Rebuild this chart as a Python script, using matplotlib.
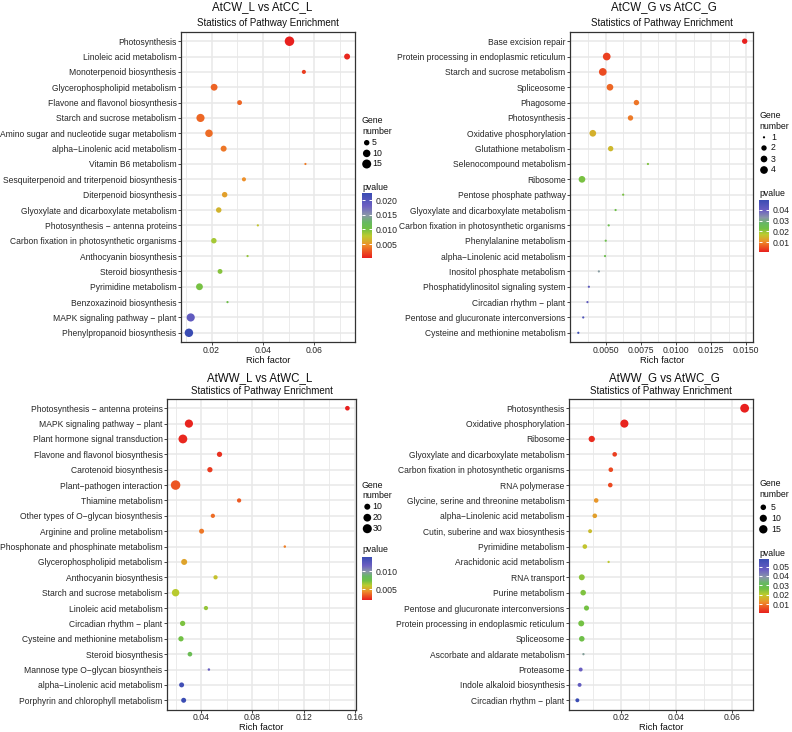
import numpy as np
import matplotlib
matplotlib.use("Agg")
import matplotlib.pyplot as plt
from matplotlib.colors import LinearSegmentedColormap, Normalize
from matplotlib.cm import ScalarMappable
from matplotlib.ticker import FixedLocator, FormatStrFormatter

plt.rcParams['font.family'] = ['Liberation Sans', 'DejaVu Sans']

M = "\u2212"

# ---------------- Panel 1 ----------------
p1_title = "AtCW_L vs AtCC_L"
p1_pathways = ["Photosynthesis", "Linoleic acid metabolism", "Monoterpenoid biosynthesis",
               "Glycerophospholipid metabolism", "Flavone and flavonol biosynthesis",
               "Starch and sucrose metabolism", "Amino sugar and nucleotide sugar metabolism",
               f"alpha{M}Linolenic acid metabolism", "Vitamin B6 metabolism",
               "Sesquiterpenoid and triterpenoid biosynthesis", "Diterpenoid biosynthesis",
               "Glyoxylate and dicarboxylate metabolism", f"Photosynthesis {M} antenna proteins",
               "Carbon fixation in photosynthetic organisms", "Anthocyanin biosynthesis",
               "Steroid biosynthesis", "Pyrimidine metabolism", "Benzoxazinoid biosynthesis",
               f"MAPK signaling pathway {M} plant", "Phenylpropanoid biosynthesis"]
p1_rich = [0.0503, 0.0727, 0.0559, 0.0210, 0.0309, 0.0157, 0.0190, 0.0247, 0.0565, 0.0326,
           0.0251, 0.0228, 0.0380, 0.0209, 0.0340, 0.0233, 0.0153, 0.0262, 0.0119, 0.0112]
p1_genes = [17, 6, 3, 8, 4, 12, 10, 6, 2, 3, 5, 5, 2, 5, 2, 4, 8, 2, 12, 13]
p1_pvalue = [0.0002, 0.0006, 0.0015, 0.0030, 0.0031, 0.0032, 0.0034, 0.0038, 0.0040, 0.0048,
             0.0055, 0.0064, 0.0074, 0.0085, 0.0090, 0.0095, 0.0100, 0.0105, 0.0190, 0.0225]
p1_xticks = [0.02, 0.04, 0.06]
p1_size_breaks = [5, 10, 15]
p1_p_breaks = [0.005, 0.010, 0.015, 0.020]

# ---------------- Panel 2 ----------------
p2_title = "AtCW_G vs AtCC_G"
p2_pathways = ["Base excision repair", "Protein processing in endoplasmic reticulum",
               "Starch and sucrose metabolism", "Spliceosome", "Phagosome", "Photosynthesis",
               "Oxidative phosphorylation", "Glutathione metabolism", "Selenocompound metabolism",
               "Ribosome", "Pentose phosphate pathway", "Glyoxylate and dicarboxylate metabolism",
               "Carbon fixation in photosynthetic organisms", "Phenylalanine metabolism",
               f"alpha{M}Linolenic acid metabolism", "Inositol phosphate metabolism",
               "Phosphatidylinositol signaling system", f"Circadian rhythm {M} plant",
               "Pentose and glucuronate interconversions", "Cysteine and methionine metabolism"]
p2_rich = [0.01488, 0.00507, 0.00479, 0.00530, 0.00718, 0.00676, 0.00408, 0.00535, 0.00800,
           0.00331, 0.00624, 0.00570, 0.00521, 0.00500, 0.00495, 0.00451, 0.00380, 0.00370,
           0.00340, 0.00305]
p2_genes = [2, 4, 4, 3, 2, 2, 3, 2, 1, 3, 1, 1, 1, 1, 1, 1, 1, 1, 1, 1]
p2_pvalue = [0.001, 0.004, 0.005, 0.0075, 0.0085, 0.009, 0.014, 0.015, 0.0216, 0.022,
             0.022, 0.023, 0.024, 0.024, 0.024, 0.032, 0.042, 0.042, 0.045, 0.049]
p2_xticks = [0.005, 0.0075, 0.010, 0.0125, 0.015]
p2_size_breaks = [1, 2, 3, 4]
p2_p_breaks = [0.01, 0.02, 0.03, 0.04]

# ---------------- Panel 3 ----------------
p3_title = "AtWW_L vs AtWC_L"
p3_pathways = [f"Photosynthesis {M} antenna proteins", f"MAPK signaling pathway {M} plant",
               "Plant hormone signal transduction", "Flavone and flavonol biosynthesis",
               "Carotenoid biosynthesis", f"Plant{M}pathogen interaction", "Thiamine metabolism",
               f"Other types of O{M}glycan biosynthesis", "Arginine and proline metabolism",
               "Phosphonate and phosphinate metabolism", "Glycerophospholipid metabolism",
               "Anthocyanin biosynthesis", "Starch and sucrose metabolism",
               "Linoleic acid metabolism", f"Circadian rhythm {M} plant",
               "Cysteine and methionine metabolism", "Steroid biosynthesis",
               f"Mannose type O{M}glycan biosyntheis", f"alpha{M}Linolenic acid metabolism",
               "Porphyrin and chlorophyll metabolism"]
p3_rich = [0.1542, 0.0304, 0.0257, 0.0543, 0.0468, 0.0200, 0.0696, 0.0491, 0.0403, 0.1053,
           0.0267, 0.0512, 0.0200, 0.0437, 0.0255, 0.0242, 0.0312, 0.0460, 0.0247, 0.0263]
p3_genes = [5, 23, 28, 7, 7, 34, 4, 4, 6, 2, 10, 4, 18, 4, 7, 7, 5, 2, 6, 6]
p3_pvalue = [0.0021, 0.0022, 0.0023, 0.0025, 0.0027, 0.0033, 0.0034, 0.0038, 0.0040, 0.0042,
             0.0050, 0.0058, 0.0062, 0.0068, 0.0072, 0.0074, 0.0080, 0.0118, 0.0135, 0.0139]
p3_xticks = [0.04, 0.08, 0.12, 0.16]
p3_size_breaks = [10, 20, 30]
p3_p_breaks = [0.005, 0.010]

# ---------------- Panel 4 ----------------
p4_title = "AtWW_G vs AtWC_G"
p4_pathways = ["Photosynthesis", "Oxidative phosphorylation", "Ribosome",
               "Glyoxylate and dicarboxylate metabolism", "Carbon fixation in photosynthetic organisms",
               "RNA polymerase", "Glycine, serine and threonine metabolism",
               f"alpha{M}Linolenic acid metabolism", "Cutin, suberine and wax biosynthesis",
               "Pyrimidine metabolism", "Arachidonic acid metabolism", "RNA transport",
               "Purine metabolism", "Pentose and glucuronate interconversions",
               "Protein processing in endoplasmic reticulum", "Spliceosome",
               "Ascorbate and aldarate metabolism", "Proteasome", "Indole alkaloid biosynthesis",
               f"Circadian rhythm {M} plant"]
p4_rich = [0.0647, 0.0212, 0.0094, 0.0177, 0.0163, 0.0161, 0.0110, 0.0105, 0.0088, 0.0069,
           0.0155, 0.0058, 0.0063, 0.0075, 0.0056, 0.0058, 0.0064, 0.0054, 0.0050, 0.0042]
p4_genes = [17, 14, 7, 3, 3, 3, 3, 3, 2, 3, 1, 6, 5, 4, 6, 5, 1, 2, 2, 2]
p4_pvalue = [0.0005, 0.001, 0.002, 0.004, 0.005, 0.005, 0.013, 0.014, 0.018, 0.019,
             0.020, 0.024, 0.025, 0.026, 0.026, 0.027, 0.037, 0.047, 0.049, 0.058]
p4_xticks = [0.02, 0.04, 0.06]
p4_size_breaks = [5, 10, 15]
p4_p_breaks = [0.01, 0.02, 0.03, 0.04, 0.05]

subtitle = "Statistics of Pathway Enrichment"
xlabel = "Rich factor"

# ---------------- styling ----------------
cmap = LinearSegmentedColormap.from_list("pv", [
    (0.00, '#E8201E'), (0.10, '#EC5422'), (0.20, '#EE8E2A'), (0.27, '#D4B02C'),
    (0.34, '#BCCB2E'), (0.45, '#6FC045'), (0.55, '#66B862'), (0.66, '#8A97A8'),
    (0.80, '#6C5FC2'), (1.00, '#3A4CB3')])

W, H = 792, 732
fig = plt.figure(figsize=(W / 100, H / 100), dpi=100)
fig.patch.set_facecolor('white')

ov = fig.add_axes([0, 0, 1, 1], zorder=10)
ov.set_xlim(0, W)
ov.set_ylim(H, 0)
ov.axis('off')
ov.patch.set_alpha(0)


def px_axes(l, t, r, b, **kw):
    return fig.add_axes([l / W, 1 - b / H, (r - l) / W, (b - t) / H], **kw)


def diam(n, nmin, nmax, dmin, dmax):
    n = np.asarray(n, dtype=float)
    return dmin + (dmax - dmin) * np.sqrt((n - nmin) / (nmax - nmin))


def s_of(d):
    return (np.asarray(d) * 0.72) ** 2


TXT = '#262626'

panels = [
    dict(title=p1_title, paths=p1_pathways, rich=p1_rich, genes=p1_genes, pv=p1_pvalue,
         xt=p1_xticks, sb=p1_size_breaks, pb=p1_p_breaks, xfmt='%.2f', pfmt='%.3f',
         box=(181, 32, 355, 342), tx=(262, 7), sx=(268, 23), xl=(268, 360.5),
         dm=(2.2, 9.5), leg=dict(x=362, gene=120.5, num=131, ent=[142.7, 153.4, 164],
                                  cx=366.7, lx=372, pv=188, cb=(362, 193, 372, 258))),
    dict(title=p2_title, paths=p2_pathways, rich=p2_rich, genes=p2_genes, pv=p2_pvalue,
         xt=p2_xticks, sb=p2_size_breaks, pb=p2_p_breaks, xfmt='%.4f', pfmt='%.2f',
         box=(570, 32, 753, 342), tx=(664, 7), sx=(662, 23), xl=(662, 360.5),
         dm=(2.2, 7.7), leg=dict(x=759, gene=115.7, num=126.3, ent=[137.3, 148, 159, 170],
                                  cx=764, lx=771, pv=193.3, cb=(759, 200, 769, 252))),
    dict(title=p3_title, paths=p3_pathways, rich=p3_rich, genes=p3_genes, pv=p3_pvalue,
         xt=p3_xticks, sb=p3_size_breaks, pb=p3_p_breaks, xfmt='%.2f', pfmt='%.3f',
         box=(167, 399, 356, 709.5), tx=(260, 378), sx=(261.5, 391), xl=(261.5, 727),
         dm=(2.5, 9.5), leg=dict(x=362, gene=485.7, num=496, ent=[506.7, 517.7, 528.7],
                                  cx=367.3, lx=372.5, pv=550, cb=(362, 557, 372, 600))),
    dict(title=p4_title, paths=p4_pathways, rich=p4_rich, genes=p4_genes, pv=p4_pvalue,
         xt=p4_xticks, sb=p4_size_breaks, pb=p4_p_breaks, xfmt='%.2f', pfmt='%.2f',
         box=(569, 399, 753, 709.5), tx=(664.7, 378), sx=(661, 391), xl=(661, 727),
         dm=(2.3, 8.8), leg=dict(x=759, gene=484, num=494.5, ent=[507.3, 518.3, 529.3],
                                  cx=763.3, lx=771, pv=553, cb=(759, 559, 769, 613))),
]

for P in panels:
    l, t, r, b = P['box']
    ax = px_axes(l, t, r, b)
    n = len(P['paths'])
    ypos = np.arange(n)
    rich = np.array(P['rich'])
    genes = np.array(P['genes'])
    pv = np.array(P['pv'])
    gmin, gmax = genes.min(), genes.max()
    norm = Normalize(vmin=pv.min(), vmax=pv.max())
    d = diam(genes, gmin, gmax, *P['dm'])
    ax.scatter(rich, ypos, s=s_of(d), c=pv, cmap=cmap, norm=norm,
               edgecolors='none', zorder=3, clip_on=False)
    span = rich.max() - rich.min()
    ax.set_xlim(rich.min() - 0.05 * span, rich.max() + 0.05 * span)
    ax.set_ylim(n - 0.4, -0.6)
    ax.set_yticks(ypos)
    ax.set_yticklabels(P['paths'])
    xt = P['xt']
    ax.xaxis.set_major_locator(FixedLocator(xt))
    step = xt[1] - xt[0]
    minors = [xt[0] - step / 2] + [v + step / 2 for v in xt]
    ax.xaxis.set_minor_locator(FixedLocator(minors))
    ax.xaxis.set_major_formatter(FormatStrFormatter(P['xfmt']))
    ax.grid(which='major', color='#E8E8E8', lw=1.1, zorder=0)
    ax.grid(which='minor', axis='x', color='#E8E8E8', lw=0.6, zorder=0)
    ax.set_axisbelow(True)
    ax.tick_params(axis='both', which='major', length=2.2, width=0.6, color=TXT,
                   labelcolor=TXT, pad=1.0)
    ax.tick_params(axis='x', pad=0.6)
    ax.tick_params(axis='y', labelsize=6.15)
    ax.tick_params(axis='x', labelsize=6.2)
    ax.tick_params(which='minor', length=0)
    for sp in ax.spines.values():
        sp.set_color('#333333')
        sp.set_linewidth(0.9)

    ov.text(P['tx'][0], P['tx'][1], P['title'], ha='center', va='center', fontsize=8.3, color='#111111')
    ov.text(P['sx'][0], P['sx'][1], subtitle, ha='center', va='center', fontsize=7.0, color='#111111')
    ov.text(P['xl'][0], P['xl'][1], xlabel, ha='center', va='center', fontsize=6.7, color='#111111')

    L = P['leg']
    ov.text(L['x'], L['gene'], "Gene", ha='left', va='center', fontsize=6.3, color='#111111')
    ov.text(L['x'], L['num'], "number", ha='left', va='center', fontsize=6.3, color='#111111')
    bd = diam(P['sb'], gmin, gmax, *P['dm'])
    ov.scatter([L['cx']] * len(P['sb']), L['ent'], s=s_of(bd), color='black', edgecolors='none')
    for yv, lab in zip(L['ent'], P['sb']):
        ov.text(L['lx'], yv, str(lab), ha='left', va='center', fontsize=6.3, color='#111111')
    ov.text(L['x'], L['pv'], "pvalue", ha='left', va='center', fontsize=6.3, color='#111111')
    cl, ct, cr, cbm = L['cb']
    cax = px_axes(cl, ct, cr, cbm)
    cb = fig.colorbar(ScalarMappable(norm=norm, cmap=cmap), cax=cax)
    cb.outline.set_visible(False)
    cb.set_ticks(P['pb'])
    cb.ax.yaxis.set_major_formatter(FormatStrFormatter(P['pfmt']))
    cb.ax.tick_params(direction='in', color='white', length=2, width=0.7, labelsize=6.3,
                      pad=2.5, left=True, right=True, labelleft=False, labelright=True,
                      labelcolor=TXT)
    cb.ax.minorticks_off()

fig.savefig("out.png", dpi=100, facecolor='white')
